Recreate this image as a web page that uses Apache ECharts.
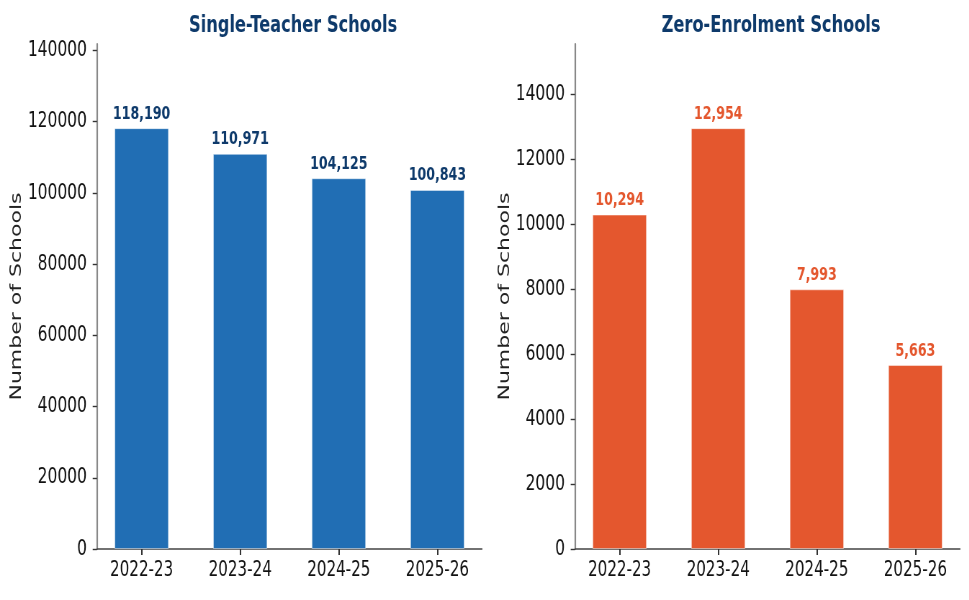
<!DOCTYPE html>
<html>
<head>
<meta charset="utf-8">
<script src="https://cdn.jsdelivr.net/npm/echarts@6/dist/echarts.min.js"></script>
<style>
  html, body { margin: 0; padding: 0; background: #fff; overflow: hidden; }
  #wrap { width: 969px; height: 600px; overflow: hidden; }
  #chart { height: 600px; transform-origin: 0 0; }
</style>
</head>
<body>
<div id="wrap"><div id="chart"></div></div>
<script>
// ---- data ----
const categories = ['2022-23', '2023-24', '2024-25', '2025-26'];
const singleTeacher = [118190, 110971, 104125, 100843];
const zeroEnrolment = [10294, 12954, 7993, 5663];
const leftTicks = [0, 20000, 40000, 60000, 80000, 100000, 120000, 140000];
const rightTicks = [0, 2000, 4000, 6000, 8000, 10000, 12000, 14000];
const titles = ['Single-Teacher Schools', 'Zero-Enrolment Schools'];
const yName = 'Number of Schools';

// ---- layout ----
const S = 0.72;                  // horizontal squeeze of the reference
const W = 969 / S;
const el = document.getElementById('chart');
el.style.width = W + 'px';
el.style.transform = 'scaleX(' + S + ')';

const xMin = -0.4525, xMax = 3.4525;
const gridW = 385 / S;
const grids = [
  { left: 97 / S, top: 44, width: gridW, height: 505 },
  { left: 575 / S, top: 44, width: gridW, height: 505 }
];
const barW = gridW * 0.55 / (xMax - xMin);
const FONT = 'DejaVu Sans';
const navy = '#0e3a6b';
const blue = '#216eb4';
const orange = '#e4572e';

function xAxis(i) {
  return {
    type: 'value', gridIndex: i, min: xMin, max: xMax,
    splitLine: { show: false },
    axisLine: { show: true, onZero: false, lineStyle: { color: '#444', width: 1.5 } },
    axisTick: { show: true, length: 6, customValues: [0, 1, 2, 3], lineStyle: { color: '#333', width: 2 } },
    axisLabel: {
      customValues: [0, 1, 2, 3], margin: 11,
      formatter: v => categories[Math.round(v)],
      fontFamily: FONT, fontSize: 21, color: '#111'
    }
  };
}
function yAxis(i, max, ticks, gap) {
  return {
    type: 'value', gridIndex: i, min: 0, max: max,
    name: yName, nameLocation: 'middle', nameGap: gap,
    nameTextStyle: { fontFamily: FONT, fontSize: 22, color: '#222' },
    splitLine: { show: false },
    axisLine: { show: true, onZero: false, lineStyle: { color: '#888', width: 2.2 } },
    axisTick: { show: true, length: 6, customValues: ticks, lineStyle: { color: '#333', width: 1.4 } },
    axisLabel: {
      customValues: ticks, margin: 14,
      formatter: v => String(v),
      fontFamily: FONT, fontSize: 21.5, color: '#111'
    }
  };
}
function barSeries(i, values, color, labelColor) {
  return {
    type: 'bar', xAxisIndex: i, yAxisIndex: i,
    data: values.map((v, k) => [k, v]),
    barWidth: barW,
    itemStyle: { color: color, borderColor: 'rgba(255,255,255,0.45)', borderWidth: 1 },
    label: {
      show: true, position: 'top', distance: 5,
      formatter: p => p.value[1].toLocaleString('en-US'),
      fontFamily: FONT, fontSize: 17.5, fontWeight: 'bold', color: labelColor
    }
  };
}

const chart = echarts.init(el, null, { renderer: 'canvas' });
chart.setOption({
  animation: false,
  backgroundColor: '#fff',
  title: titles.map((t, i) => ({
    text: t,
    left: grids[i].left + gridW / 2,
    top: 10,
    textAlign: 'center',
    textStyle: { fontFamily: FONT, fontSize: 22.5, fontWeight: 'bold', color: navy }
  })),
  grid: grids,
  xAxis: [xAxis(0), xAxis(1)],
  yAxis: [
    yAxis(0, Math.max(...singleTeacher) * 1.2, leftTicks, 97),
    yAxis(1, Math.max(...zeroEnrolment) * 1.2, rightTicks, 83)
  ],
  series: [
    barSeries(0, singleTeacher, blue, navy),
    barSeries(1, zeroEnrolment, orange, orange)
  ]
});
</script>
</body>
</html>
